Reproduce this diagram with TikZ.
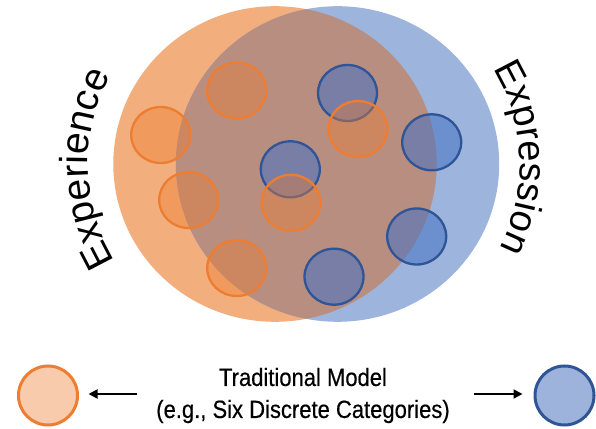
\documentclass[tikz,border=0pt]{standalone}
\usepackage{fontspec}
\setmainfont{Liberation Sans}
\newfontfamily\narrowfont[FakeStretch=0.88,FakeBold=0.4]{Liberation Sans}
\usetikzlibrary{decorations.text, arrows.meta}
\definecolor{bigorange}{RGB}{242,174,125}
\definecolor{bigblue}{RGB}{157,180,220}
\definecolor{overlapc}{RGB}{184,142,128}
\definecolor{orline}{RGB}{237,125,49}
\definecolor{blline}{RGB}{47,85,151}
\definecolor{orfill}{RGB}{237,125,49}
\definecolor{blfill}{RGB}{68,114,196}
\definecolor{legor}{RGB}{248,203,173}
\definecolor{legbl}{RGB}{157,179,219}
\begin{document}
\begin{tikzpicture}[x=1pt,y=1pt,
  orcirc/.style={draw=orline, line width=2.3pt, fill=orfill, fill opacity=0.4},
  blcirc/.style={draw=blline, line width=2.3pt, fill=blfill, fill opacity=0.55},
  small/.style={x radius=29.5, y radius=28},
  big/.style={x radius=161.7, y radius=157.8},
  legend/.style={circle, minimum size=59pt, inner sep=0pt, line width=3pt},
  arr/.style={line width=1.8pt, -{Triangle[length=9pt,width=9pt]}},
  curved/.style 2 args={decorate, decoration={text along path, text align=center, text={|\fontsize{#1}{#1}\selectfont|#2}}}
]
\fill[white] (0,0) rectangle (596,428);
\useasboundingbox (0,0) rectangle (596,428);
% big circles
\fill[bigorange] (275,264) ellipse[big];
\fill[bigblue] (337.5,264) ellipse[big];
\begin{scope}
  \clip (275,264) ellipse[big];
  \fill[overlapc] (337.5,264) ellipse[big];
\end{scope}
% small blue circles
\path[blcirc] (347.5,335) ellipse[small];
\path[blcirc] (290.3,258.7) ellipse[small];
\path[blcirc] (431.7,285.7) ellipse[small];
\path[blcirc] (416.7,191.5) ellipse[small];
\path[blcirc] (334,151.3) ellipse[small];
% small orange circles
\path[orcirc] (236.7,337.5) ellipse[small];
\path[orcirc] (160.7,293) ellipse[small];
\path[orcirc] (188.7,228) ellipse[small];
\path[orcirc] (236.7,160) ellipse[small];
\path[orcirc] (291,225.2) ellipse[small];
\path[orcirc] (358,299) ellipse[small];
% curved labels
\path[curved={39}{Experience}] (275,264) ++(221.5:187) arc[start angle=221.5, end angle=141.5, radius=187];
\path[curved={38}{Expression}] (337,264) ++(42:183) arc[start angle=42, end angle=-38, radius=183];
% legend
\node[legend, draw=orline, fill=legor] (lo) at (48,32.5) {};
\node[legend, draw=blline, fill=legbl] (lb) at (564.5,32.5) {};
\node[font=\narrowfont\fontsize{25}{32}\selectfont, align=center, inner sep=0pt] (txt) at (303,32.5) {Traditional Model\\(e.g., Six Discrete Categories)};
\coordinate (la) at (137,34);
\coordinate (ra) at (474,34);
\draw[arr, shorten >=9.5pt] (la) -- (la -| lo.east);
\draw[arr, shorten >=11pt] (ra) -- (ra -| lb.west);
\end{tikzpicture}
\end{document}
